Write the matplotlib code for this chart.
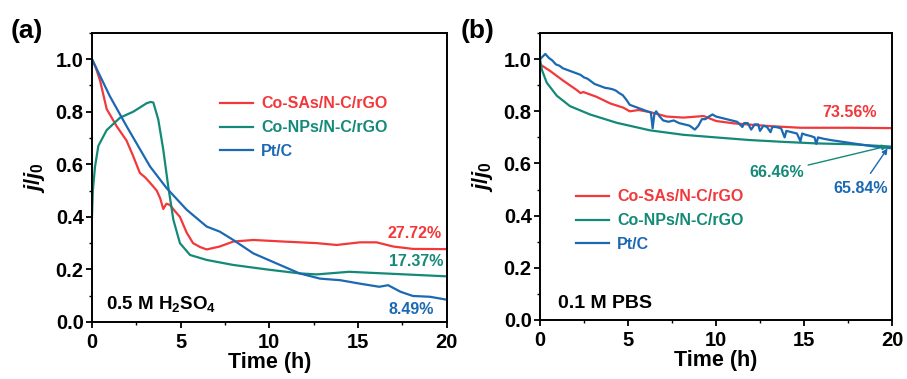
import matplotlib
matplotlib.use("Agg")
import matplotlib.pyplot as plt
from matplotlib.ticker import MultipleLocator

plt.rcParams['font.family'] = ['Liberation Sans', 'DejaVu Sans']
plt.rcParams['font.weight'] = 'bold'
plt.rcParams['mathtext.fontset'] = 'custom'
plt.rcParams['mathtext.rm'] = 'Liberation Sans:bold'
plt.rcParams['mathtext.it'] = 'Liberation Sans:bold:italic'
plt.rcParams['mathtext.bf'] = 'Liberation Sans:bold'

RED = '#f2383b'
GREEN = '#138a78'
BLUE = '#1b69b2'
names = ['Co-SAs/N-C/rGO', 'Co-NPs/N-C/rGO', 'Pt/C']

# ---- panel (a): 0.5 M H2SO4
t_a_red = [0.0, 0.2, 0.45, 0.83, 1.39, 1.95, 2.33, 2.7, 3.0, 3.27, 3.65, 3.85, 4.02, 4.2,
           4.4, 4.7, 4.96, 5.34, 5.7, 6.1, 6.47, 7.2, 7.97, 9.1, 10.8, 12.67, 13.8, 15.1,
           16.05, 17.0, 18.1, 20.0]
y_a_red = [1.0, 0.97, 0.92, 0.81, 0.745, 0.69, 0.63, 0.567, 0.55, 0.53, 0.50, 0.47, 0.43, 0.45,
           0.445, 0.42, 0.40, 0.34, 0.30, 0.285, 0.276, 0.287, 0.306, 0.312, 0.306, 0.30, 0.293,
           0.303, 0.303, 0.287, 0.278, 0.2772]
t_a_green = [0.0, 0.05, 0.17, 0.36, 0.83, 1.58, 2.33, 3.08, 3.3, 3.46, 3.74, 4.02, 4.3, 4.59,
             4.96, 5.53, 6.47, 7.97, 9.85, 11.7, 12.67, 14.5, 16.4, 20.0]
y_a_green = [0.40, 0.50, 0.59, 0.67, 0.73, 0.777, 0.80, 0.832, 0.837, 0.835, 0.77, 0.656,
             0.516, 0.389, 0.30, 0.255, 0.236, 0.217, 0.20, 0.185, 0.181, 0.191, 0.185, 0.1737]
t_a_blue = [0.0, 1.0, 1.95, 3.27, 4.2, 5.34, 6.47, 7.2, 7.97, 9.1, 10.4, 11.7, 12.86, 14.0,
            15.1, 16.2, 16.7, 17.4, 18.1, 19.06, 20.0]
y_a_blue = [1.0, 0.86, 0.745, 0.592, 0.51, 0.427, 0.363, 0.344, 0.312, 0.261, 0.223, 0.185,
            0.165, 0.159, 0.146, 0.134, 0.14, 0.115, 0.099, 0.096, 0.0849]

# ---- panel (b): 0.1 M PBS
t_b_red = [0.0, 0.57, 1.33, 2.08, 2.3, 2.46, 3.2, 4.0, 4.74, 5.1, 5.6, 6.26, 7.2, 8.15, 9.3,
           10.0, 11.0, 12.9, 14.8, 17.6, 20.0]
y_b_red = [0.98, 0.955, 0.917, 0.882, 0.87, 0.874, 0.856, 0.83, 0.814, 0.80, 0.805, 0.797,
           0.78, 0.776, 0.782, 0.763, 0.754, 0.744, 0.737, 0.737, 0.7356]
t_b_green = [0.0, 0.1, 0.38, 0.95, 1.7, 2.84, 4.36, 6.26, 8.15, 10.0, 11.9, 13.8, 15.7, 17.6,
             20.0]
y_b_green = [1.0, 0.96, 0.91, 0.86, 0.82, 0.788, 0.756, 0.727, 0.71, 0.70, 0.69, 0.683,
             0.677, 0.674, 0.6646]
t_b_blue = [0.0, 0.15, 0.3, 0.5, 0.7, 0.9, 1.1, 1.3, 1.5, 1.7,
            1.9, 2.1, 2.3, 2.5, 2.7, 2.9, 3.1, 3.3, 3.5, 3.7,
            3.9, 4.1, 4.3, 4.5, 4.7, 4.9, 5.1, 5.3, 5.5, 5.7,
            5.9, 6.1, 6.3, 6.4, 6.5, 6.6, 6.8, 7.0, 7.3, 7.6,
            7.9, 8.2, 8.5, 8.8, 9.0, 9.2, 9.4, 9.6, 9.8, 10.0,
            10.3, 10.6, 10.9, 11.2, 11.5, 11.6, 11.8, 12.0, 12.2, 12.4,
            12.5, 12.7, 12.9, 13.1, 13.2, 13.4, 13.7, 13.9, 14.0, 14.3,
            14.6, 14.8, 14.9, 15.1, 15.4, 15.6, 15.7, 15.8, 16.1, 16.5,
            17.0, 17.5, 18.0, 18.5, 19.0, 19.5, 20.0]
y_b_blue = [1.00, 1.01, 1.02, 1.005, 0.995, 0.98, 0.975, 0.965, 0.96, 0.955,
            0.95, 0.945, 0.94, 0.93, 0.925, 0.915, 0.905, 0.90, 0.895, 0.89,
            0.888, 0.885, 0.88, 0.87, 0.862, 0.845, 0.825, 0.82, 0.815, 0.81,
            0.805, 0.80, 0.795, 0.735, 0.79, 0.80, 0.78, 0.765, 0.76, 0.765,
            0.755, 0.75, 0.745, 0.73, 0.745, 0.77, 0.77, 0.78, 0.788, 0.78,
            0.775, 0.77, 0.765, 0.76, 0.74, 0.755, 0.755, 0.73, 0.75, 0.75,
            0.725, 0.745, 0.74, 0.72, 0.74, 0.74, 0.735, 0.70, 0.725, 0.72,
            0.715, 0.685, 0.715, 0.71, 0.705, 0.70, 0.675, 0.70, 0.695, 0.69,
            0.685, 0.68, 0.675, 0.67, 0.665, 0.662, 0.658]

fig = plt.figure(figsize=(9.07, 3.79), dpi=100)
ax1 = fig.add_axes([0.1014, 0.1504, 0.391, 0.763])
ax2 = fig.add_axes([0.5954, 0.1557, 0.388, 0.757])


def style(ax):
    ax.set_xlim(0, 20)
    ax.set_ylim(0, 1.1)
    ax.xaxis.set_major_locator(MultipleLocator(5))
    ax.xaxis.set_minor_locator(MultipleLocator(2.5))
    ax.yaxis.set_major_locator(MultipleLocator(0.2))
    ax.yaxis.set_minor_locator(MultipleLocator(0.1))
    ax.tick_params(which='major', direction='out', length=4, width=1.3, labelsize=14.5, pad=2)
    ax.tick_params(axis='x', which='major', pad=4)
    ax.tick_params(which='minor', direction='out', length=2, width=1.0)
    for s in ax.spines.values():
        s.set_linewidth(1.4)
    ax.set_xlabel('Time (h)', fontsize=15.5, fontweight='bold', labelpad=0)
    ax.set_ylabel(r'$j/j_0$', fontsize=16, labelpad=6)
    for lab in ax.get_xticklabels() + ax.get_yticklabels():
        lab.set_fontweight('bold')


ax1.plot(t_a_red, y_a_red, color=RED, lw=1.6, label=names[0])
ax1.plot(t_a_green, y_a_green, color=GREEN, lw=1.6, label=names[1])
ax1.plot(t_a_blue, y_a_blue, color=BLUE, lw=1.6, label=names[2])
style(ax1)
ax1.legend(loc='upper left', bbox_to_anchor=(0.32, 0.83), frameon=False, fontsize=11.5,
           handlelength=2.1, handletextpad=0.5, labelspacing=0.55, labelcolor='linecolor')
ax1.text(19.7, 0.335, '27.72%', color=RED, fontsize=11.5, ha='right', va='center')
ax1.text(19.8, 0.23, '17.37%', color=GREEN, fontsize=11.5, ha='right', va='center')
ax1.text(19.3, 0.048, '8.49%', color=BLUE, fontsize=11.5, ha='right', va='center')
ax1.text(0.8, 0.07, r'0.5 M H$_2$SO$_4$', fontsize=13.5, va='center')
fig.text(0.012, 0.9, '(a)', fontsize=19, fontweight='bold')

ax2.plot(t_b_red, y_b_red, color=RED, lw=1.6, label=names[0])
ax2.plot(t_b_green, y_b_green, color=GREEN, lw=1.6, label=names[1])
ax2.plot(t_b_blue, y_b_blue, color=BLUE, lw=1.6, label=names[2])
style(ax2)
ax2.legend(loc='upper left', bbox_to_anchor=(0.06, 0.505), frameon=False, fontsize=11.5,
           handlelength=2.1, handletextpad=0.5, labelspacing=0.55, labelcolor='linecolor')
ax2.text(17.6, 0.797, '73.56%', color=RED, fontsize=11.5, ha='center', va='center')
ax2.annotate('66.46%', xy=(19.75, 0.667), xytext=(15.0, 0.565), color=GREEN, fontsize=11.5,
             ha='right', va='center',
             arrowprops=dict(arrowstyle='-|>', color=GREEN, lw=1.0, mutation_scale=8,
                             shrinkA=1, shrinkB=0))
ax2.annotate('65.84%', xy=(19.75, 0.658), xytext=(18.2, 0.505), color=BLUE, fontsize=11.5,
             ha='center', va='center',
             arrowprops=dict(arrowstyle='-|>', color=BLUE, lw=1.0, mutation_scale=8,
                             shrinkA=4, shrinkB=0))
ax2.text(1.0, 0.064, '0.1 M PBS', fontsize=14, va='center')
fig.text(0.508, 0.9, '(b)', fontsize=19, fontweight='bold')

fig.savefig('out.png', dpi=100)
